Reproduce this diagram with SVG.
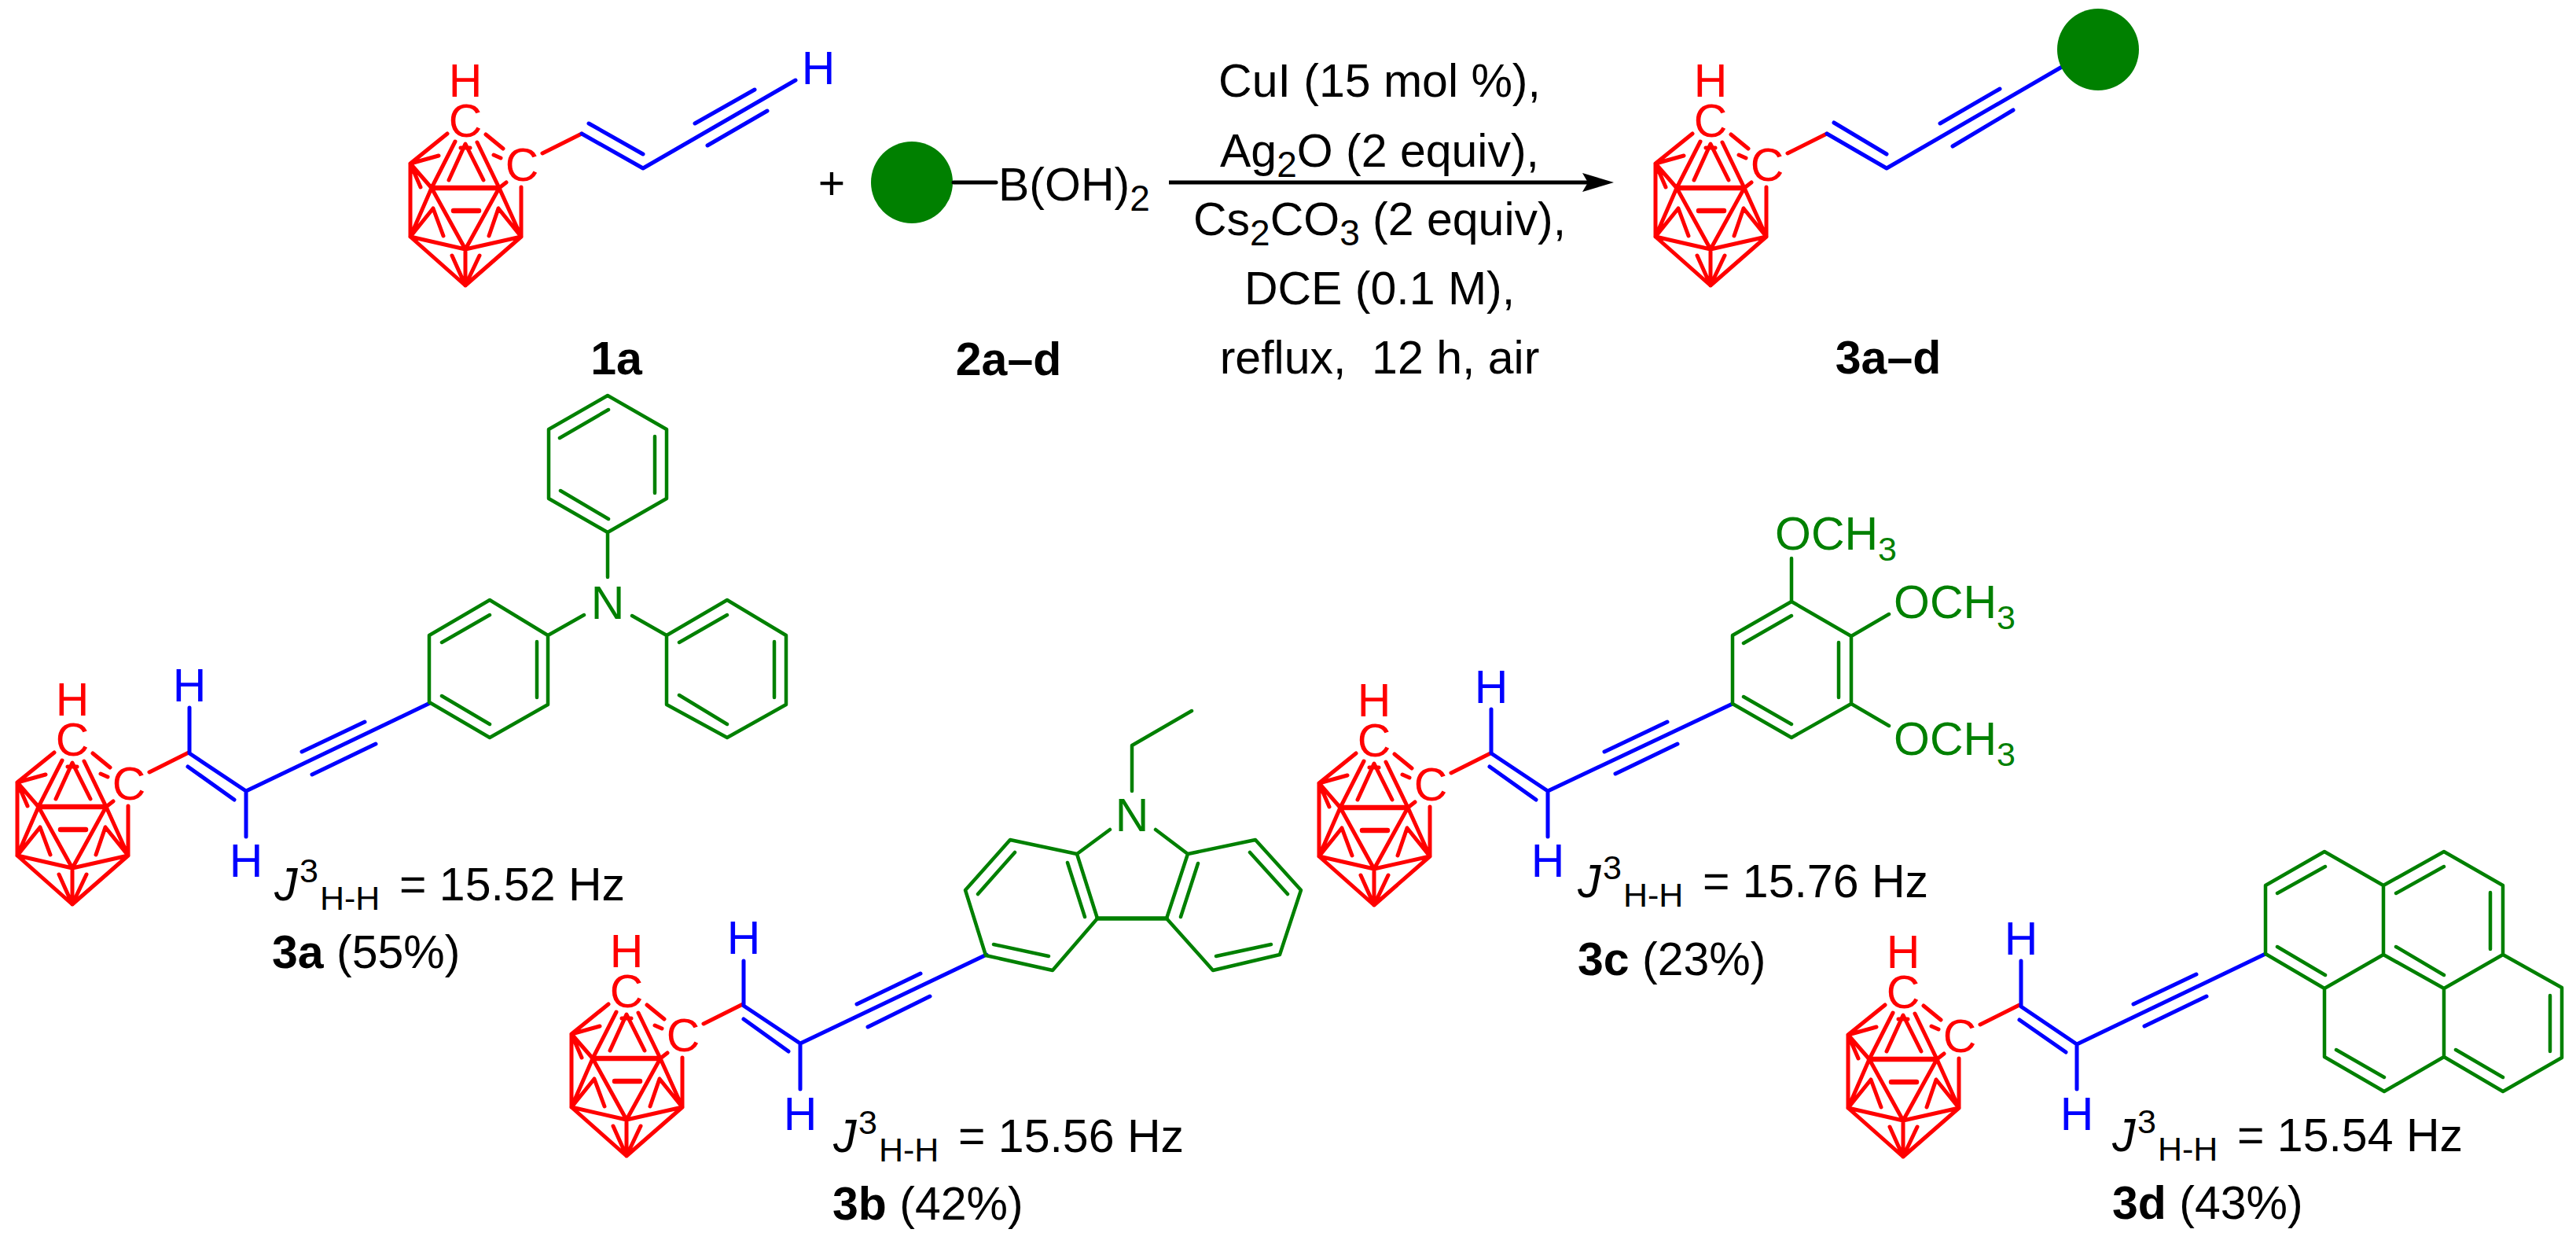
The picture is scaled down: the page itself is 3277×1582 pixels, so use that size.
<svg xmlns="http://www.w3.org/2000/svg" width="3277" height="1582" viewBox="0 0 3277 1582">
<style>
text{font-family:"Liberation Sans",Arial,sans-serif;font-size:59px;fill:#000}
.ctr{text-anchor:middle}
.bold{font-weight:bold}
.it{font-style:italic}
.s{font-size:43px}
.ss{font-size:46px}
.tr{fill:#f00}.tb{fill:#00f}.tg{fill:#008000}
path{fill:none;stroke-width:5;stroke-linecap:round;stroke-linejoin:round}
.r{stroke:#f00}.b{stroke:#00f}.g{stroke:#008000;stroke-width:4.5}
.ball{fill:#008000}
</style>
<defs>
<path id="cage" class="r" d="M569 170L522 208L558 198M522 208L535 238M522 208V301M522 208L549 239L592 317M579 180L549 239L522 301M607 181L635 239L663 301M618 171L640 189M628 197L637 201M571 229L592 183L615 229M586 188H598M644 232L635 239L592 317M522 301L551 265L564 300M663 301L634 265L622 300M663 238V301M522 301L592 317L663 301M522 301L592 363L663 301M592 317V363M575 325L592 363L610 325M690 195L740 170"/>
<path id="barbell" class="r" d="M549 239H635M577 268H609" style="stroke-width:6.5"/>
</defs>

<g id="compound-1a">
<use href="#cage"/><use href="#barbell"/>
<text class="tr ctr" x="592" y="123">H</text><text class="tr ctr" x="592" y="174">C</text><text class="tr ctr" x="664" y="230">C</text>
<path class="b" d="M740 170L818 214L1012 102M749 157L818 196M884 157L960 114M900 185L976 141"/>
<text class="tb ctr" x="1041" y="107">H</text>
<text class="bold ctr" x="784" y="476">1a</text>
</g>

<g id="plus"><text class="ctr" x="1058" y="253">+</text></g>

<g id="compound-2a-d">
<circle class="ball" cx="1160" cy="232" r="52"/>
<path d="M1213 232H1267" stroke="#000" style="stroke-width:5"/>
<text x="1270" y="255">B(OH)<tspan class="ss" dy="13">2</tspan></text>
<text class="bold ctr" x="1283" y="477">2a–d</text>
</g>

<g id="conditions">
<text class="ctr" x="1755" y="123">CuI (15 mol %),</text>
<text class="ctr" x="1755" y="212">Ag<tspan class="ss" dy="13">2</tspan><tspan dy="-13">O (2 equiv),</tspan></text>
<text class="ctr" x="1755" y="299">Cs<tspan class="ss" dy="13">2</tspan><tspan dy="-13">CO</tspan><tspan class="ss" dy="13">3</tspan><tspan dy="-13"> (2 equiv),</tspan></text>
<text class="ctr" x="1755" y="387">DCE (0.1 M),</text>
<text class="ctr" x="1755" y="475" xml:space="preserve">reflux,  12 h, air</text>
</g>

<g id="connectors">
<path d="M1487 232H2025" stroke="#000" style="stroke-width:5;stroke-linecap:butt"/>
<polygon points="2013,220 2053,232 2013,244 2020,232" fill="#000"/>
</g>

<g id="compound-3a-d">
<use href="#cage" x="1584"/><use href="#barbell" x="1584"/>
<text class="tr ctr" x="2176" y="123">H</text><text class="tr ctr" x="2176" y="174">C</text><text class="tr ctr" x="2248" y="230">C</text>
<path class="b" d="M2324 170L2400 214L2623 85M2333 156L2400 196M2468 157L2544 113M2484 186L2561 140"/>
<circle class="ball" cx="2669" cy="63" r="52"/>
<text class="bold ctr" x="2402" y="475">3a–d</text>
</g>

<g id="compound-3a">
<use href="#cage" x="-500" y="787"/><use href="#barbell" x="-500" y="787"/>
<text class="tr ctr" x="92" y="910">H</text><text class="tr ctr" x="92" y="961">C</text><text class="tr ctr" x="164" y="1017">C</text>
<path class="b" d="M241 900V958L313 1006V1064M239 975L298 1017M313 1006L547 894M384 956L464 918M397 985L478 946"/>
<text class="tb ctr" x="241" y="892">H</text><text class="tb ctr" x="313" y="1115">H</text>
<path class="g" d="M546 808L623 763L697 808V896L623 938L546 893ZM562 817L623 782M683 816V887M562 885L623 921M697 808L743 782M804 783L848 808M773 678V734M773 503L848 546V634L773 677L698 634V546ZM712 557L774 521M833 555V627M713 624L774 660M848 808L925 763L1000 808V896L925 938L848 896ZM864 817L925 782M985 816V887M864 884L925 921"/>
<text class="tg ctr" x="773" y="787">N</text>
<text x="349" y="1145"><tspan class="it">J</tspan><tspan class="s" x="381" y="1122">3</tspan><tspan class="s" x="407" y="1157">H-H</tspan><tspan x="508" y="1145">= 15.52 Hz</tspan></text>
<text x="346" y="1231"><tspan class="bold">3a</tspan> (55%)</text>
</g>

<g id="compound-3b">
<use href="#cage" x="205" y="1107"/><use href="#barbell" x="205" y="1107"/>
<text class="tr ctr" x="797" y="1230">H</text><text class="tr ctr" x="797" y="1281">C</text><text class="tr ctr" x="869" y="1337">C</text>
<path class="b" d="M946 1222V1279L1018 1327V1385M946 1296L1003 1337M1018 1327L1255 1214M1090 1277L1171 1238M1104 1306L1183 1267"/>
<text class="tb ctr" x="946" y="1213">H</text><text class="tb ctr" x="1018" y="1437">H</text>
<path class="g" d="M1254 1215L1228 1132L1285 1068L1370 1086L1396 1168L1339 1234ZM1244 1137L1291 1084M1358 1097L1380 1166M1264 1201L1334 1216M1484 1168L1511 1086L1597 1068L1655 1132L1628 1214L1543 1234ZM1524 1098L1502 1166M1590 1084L1638 1137M1547 1216L1617 1201M1370 1086L1412 1055M1470 1055L1511 1086M1440 1006V948L1516 904"/>
<path class="g" d="M1396 1168H1484" style="stroke-width:5.5"/>
<text class="tg ctr" x="1440" y="1057">N</text>
<text x="1060" y="1465"><tspan class="it">J</tspan><tspan class="s" x="1092" y="1442">3</tspan><tspan class="s" x="1118" y="1477">H-H</tspan><tspan x="1219" y="1465">= 15.56 Hz</tspan></text>
<text x="1059" y="1551"><tspan class="bold">3b</tspan> (42%)</text>
</g>

<g id="compound-3c">
<use href="#cage" x="1156" y="788"/><use href="#barbell" x="1156" y="788"/>
<text class="tr ctr" x="1748" y="911">H</text><text class="tr ctr" x="1748" y="962">C</text><text class="tr ctr" x="1820" y="1018">C</text>
<path class="b" d="M1897 902V958L1969 1006V1064M1895 975L1954 1017M1969 1006L2204 895M2041 956L2121 918M2055 984L2134 946"/>
<text class="tb ctr" x="1897" y="894">H</text><text class="tb ctr" x="1969" y="1115">H</text>
<path class="g" d="M2204 808L2279 765L2355 809V895L2279 938L2204 895ZM2218 818L2279 783M2339 817V887M2218 886L2279 921M2279 765V710M2355 809L2403 781M2355 895L2403 923"/>
<text class="tg" x="2258" y="699">OCH<tspan class="s" dy="14">3</tspan></text>
<text class="tg" x="2409" y="786">OCH<tspan class="s" dy="14">3</tspan></text>
<text class="tg" x="2409" y="960">OCH<tspan class="s" dy="14">3</tspan></text>
<text x="2007" y="1141"><tspan class="it">J</tspan><tspan class="s" x="2039" y="1118">3</tspan><tspan class="s" x="2065" y="1153">H-H</tspan><tspan x="2166" y="1141">= 15.76 Hz</tspan></text>
<text x="2007" y="1240"><tspan class="bold">3c</tspan> (23%)</text>
</g>

<g id="compound-3d">
<use href="#cage" x="1829" y="1108"/><use href="#barbell" x="1829" y="1108"/>
<text class="tr ctr" x="2421" y="1231">H</text><text class="tr ctr" x="2421" y="1282">C</text><text class="tr ctr" x="2493" y="1338">C</text>
<path class="b" d="M2571 1222V1280L2642 1328V1385M2569 1297L2628 1338M2642 1328L2882 1213M2714 1277L2794 1239M2728 1305L2807 1267"/>
<text class="tb ctr" x="2571" y="1214">H</text><text class="tb ctr" x="2642" y="1437">H</text>
<path class="g" d="M2882 1213V1126L2957 1083L3032 1126V1214L2957 1257ZM3032 1126L3109 1083L3184 1126V1214L3109 1257L3032 1214M3184 1214L3259 1256V1345L3184 1388L3109 1344V1257M3109 1344L3033 1388L2957 1344V1257M2897 1136L2958 1102M2897 1204L2958 1240M3048 1136L3109 1102M3168 1135V1207M3048 1204L3109 1240M3244 1266V1337M3124 1335L3184 1370M2972 1335L3033 1370"/>
<text x="2687" y="1464"><tspan class="it">J</tspan><tspan class="s" x="2719" y="1441">3</tspan><tspan class="s" x="2745" y="1476">H-H</tspan><tspan x="2846" y="1464">= 15.54 Hz</tspan></text>
<text x="2687" y="1550"><tspan class="bold">3d</tspan> (43%)</text>
</g>
</svg>
